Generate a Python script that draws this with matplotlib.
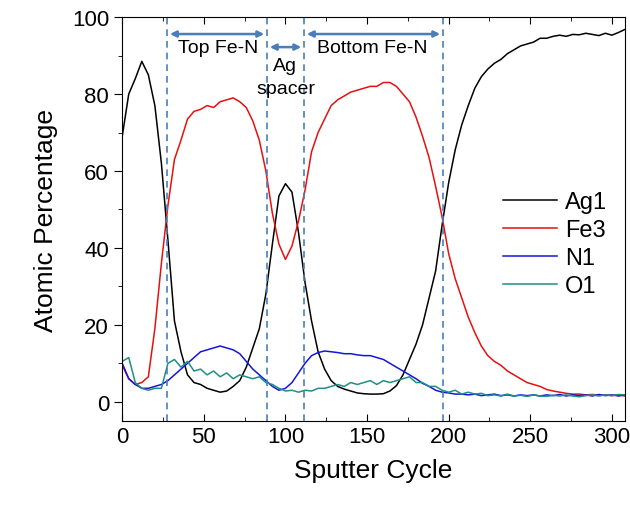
import numpy as np
import matplotlib
matplotlib.use("Agg")
import matplotlib.pyplot as plt
from matplotlib.ticker import MultipleLocator

plt.rcParams['font.family'] = ['Liberation Sans', 'DejaVu Sans']

# sputter cycles (every 4th cycle)
cycle = np.arange(0, 309, 4)

ag1 = [69, 80, 84, 88.5, 85, 77, 62, 42, 21, 13,
       7, 5, 4.5, 3.5, 3, 2.5, 2.8, 4, 5.5, 9,
       14, 19, 28, 41, 53.5, 56.7, 54.5, 44, 31, 21,
       13, 8.5, 5.5, 4, 3.3, 2.8, 2.3, 2.1, 2, 2,
       2.1, 2.8, 4.2, 7, 11, 15, 20, 27, 34, 46,
       57, 65.5, 72, 77, 81.5, 84.5, 86.5, 88, 89, 90.5,
       91.5, 92.5, 93, 93.5, 94.5, 94.5, 95, 95.3, 95, 95.5,
       95.4, 95.8, 95.5, 95.2, 95.8, 95.3, 96, 96.8]

fe3 = [9.5, 6, 4.5, 5, 6.5, 19, 36, 51, 63, 68,
       73.5, 75.5, 76, 77, 76.5, 78, 78.5, 79, 78, 76.5,
       73, 68, 60, 49, 41, 37, 40.5, 47, 55, 65,
       70, 73.5, 77, 78.5, 79.5, 80.5, 81, 81.5, 82, 82,
       83, 83, 82, 80, 78, 74, 69, 63.5, 56, 48,
       38.5, 32, 27, 22, 18, 14.5, 12, 10.5, 9.5, 8,
       7, 6, 5, 4.5, 4, 3.2, 2.8, 2.5, 2.2, 2,
       2, 1.8, 1.9, 1.7, 1.8, 1.6, 1.8, 1.5]

n1 = [10, 6, 4.5, 3.5, 3.5, 4, 4.5, 5.5, 7, 8.5,
      10, 11.5, 13, 13.5, 14, 14.5, 14, 13.5, 12.5, 10.5,
      8.5, 7, 5.5, 4, 3, 3.5, 5, 7.5, 10, 12,
      12.8, 13.2, 13, 12.8, 12.5, 12.5, 12.2, 12, 12, 11.5,
      11, 10, 9, 8, 7, 6, 4.8, 4, 3, 2.5,
      2.3, 2, 2, 1.8, 2, 1.6, 1.8, 2, 1.6, 1.8,
      1.5, 1.8, 1.6, 1.8, 1.5, 1.8, 1.6, 1.9, 1.5, 1.8,
      1.6, 1.8, 1.5, 1.9, 1.6, 1.8, 1.5, 1.8]

o1 = [10.5, 11.5, 5, 3.5, 3, 3.5, 3.5, 10, 11, 9,
      10.5, 8, 8.5, 7, 8, 6.5, 7.5, 6, 7, 6.5,
      6, 6.5, 5, 4.5, 3.5, 2.8, 3, 2.5, 3, 2.8,
      3.5, 3.5, 4, 4.5, 4, 5, 4.5, 5, 5.5, 4.5,
      5.5, 5, 5.5, 6, 6.5, 5, 5, 4, 4, 3,
      2.5, 3, 2, 2.5, 2, 2.2, 1.6, 1.8, 1.5, 2,
      1.5, 1.7, 1.4, 1.8, 1.5, 1.4, 1.7, 1.5, 1.8, 1.5,
      1.3, 1.6, 1.8, 1.5, 1.8, 1.6, 1.9, 1.8]

# layer boundaries (dashed lines)
bounds = [27.5, 88.7, 111.4, 196.5]

fig = plt.figure(figsize=(6.3, 5.1), dpi=100)
ax = fig.add_axes([0.194, 0.1725, 0.798, 0.792])

ax.plot(cycle, ag1, color='black', lw=1.1, label='Ag1')
ax.plot(cycle, fe3, color='#E61010', lw=1.1, label='Fe3')
ax.plot(cycle, n1, color='#1515D8', lw=1.1, label='N1')
ax.plot(cycle, o1, color='#1F8F86', lw=1.1, label='O1')

arrow_c = '#4A7EBB'
for b in bounds:
    ax.axvline(b, color=arrow_c, ls=(0, (4, 3)), lw=1.2)

arr = dict(arrowstyle='<|-|>', color=arrow_c, lw=1.8, mutation_scale=9)
ax.annotate('', xy=(bounds[0], 95.6), xytext=(bounds[1], 95.6), arrowprops=arr)
ax.annotate('', xy=(bounds[2], 95.6), xytext=(bounds[3], 95.6), arrowprops=arr)
ax.annotate('', xy=(bounds[1], 92.2), xytext=(bounds[2], 92.2), arrowprops=arr)

ax.text(59, 92.2, 'Top Fe-N', ha='center', va='center', fontsize=14)
ax.text(153, 92.2, 'Bottom Fe-N', ha='center', va='center', fontsize=14)
ax.text(100, 87.3, 'Ag', ha='center', va='center', fontsize=14)
ax.text(100, 81.5, 'spacer', ha='center', va='center', fontsize=14)

ax.set_xlim(0, 308)
ax.set_ylim(-5, 100)
ax.xaxis.set_major_locator(MultipleLocator(50))
ax.xaxis.set_minor_locator(MultipleLocator(25))
ax.yaxis.set_major_locator(MultipleLocator(20))
ax.yaxis.set_minor_locator(MultipleLocator(10))
ax.tick_params(axis='x', which='both', direction='in', top=True, labelsize=16)
ax.tick_params(axis='x', which='major', length=5)
ax.tick_params(axis='x', which='minor', length=3)
ax.tick_params(axis='y', which='both', direction='out', labelsize=16)
ax.tick_params(axis='y', which='major', length=6)
ax.tick_params(axis='y', which='minor', length=3)

ax.set_xlabel('Sputter Cycle', fontsize=19, labelpad=8)
ax.set_ylabel('Atomic Percentage', fontsize=19, labelpad=10)

ax.legend(loc='center left', bbox_to_anchor=(0.757, 0.438), frameon=False,
          fontsize=17, handlelength=2.3, handletextpad=0.35, labelspacing=0.25,
          borderpad=0, borderaxespad=0)

fig.savefig('out.png', dpi=100)
